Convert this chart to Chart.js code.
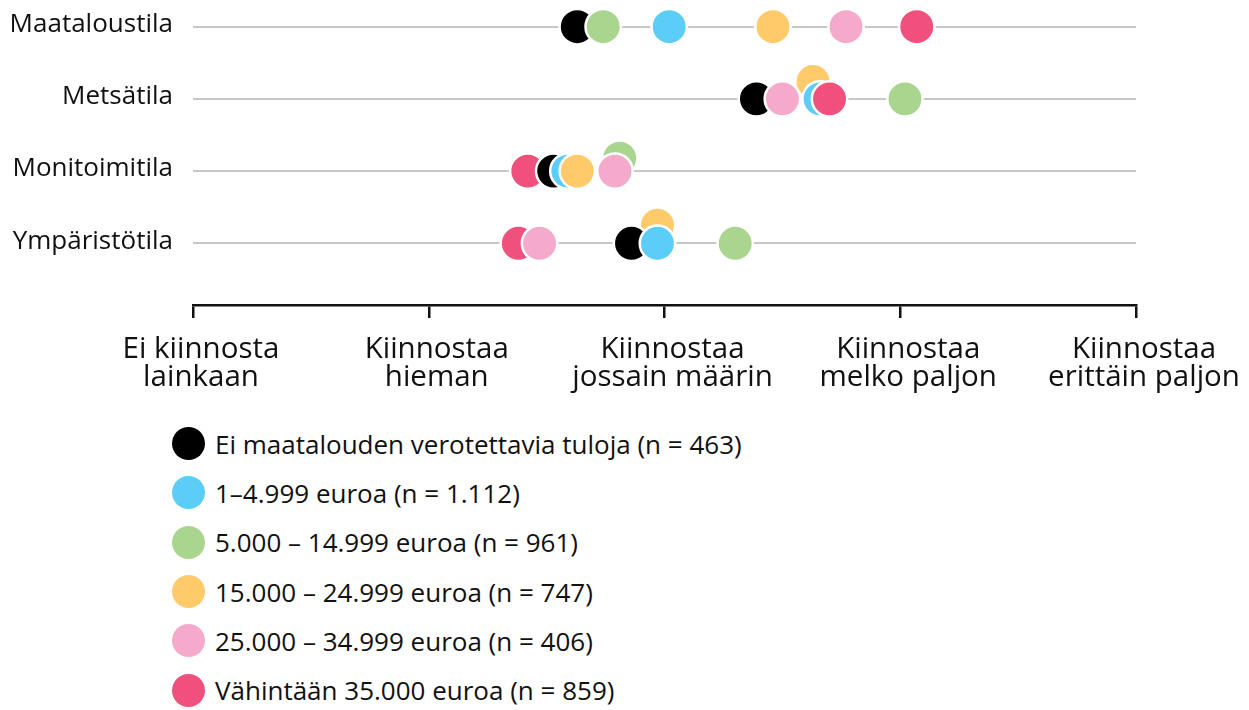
<!DOCTYPE html>
<html lang="fi">
<head>
<meta charset="utf-8">
<title>Kiinnostus tilatyyppeihin tulotason mukaan</title>
<script src="https://cdn.jsdelivr.net/npm/chart.js@4.4.1/dist/chart.umd.min.js"></script>
<style>
  body { margin: 0; background: #fff; font-family: "Open Sans", sans-serif; }
  #wrap { position: relative; width: 1249px; height: 710px; }
  #kaavio { position: absolute; left: 0; top: 0; }
  #selite { position: absolute; left: 172px; top: 419px; margin: 0; padding: 0; list-style: none; }
  #selite li { display: flex; align-items: center; height: 49.3px; font-size: 26px; color: #111; white-space: nowrap; }
  #selite .pallo { width: 33px; height: 33px; border-radius: 50%; margin-right: 10px; flex: none; }
</style>
</head>
<body>
<div id="wrap">
  <canvas id="kaavio" width="1249" height="410"></canvas>
  <ul id="selite"></ul>
</div>
<script>
var rivit = ['Maataloustila', 'Metsätila', 'Monitoimitila', 'Ympäristötila'];
var ryhmat = [
    'Ei maatalouden verotettavia tuloja (n = 463)',
    '1–4.999 euroa (n = 1.112)',
    '5.000 – 14.999 euroa (n = 961)',
    '15.000 – 24.999 euroa (n = 747)',
    '25.000 – 34.999 euroa (n = 406)',
    'Vähintään 35.000 euroa (n = 859)'
];
var asteikko = [
    ['Ei kiinnosta', 'lainkaan'],
    ['Kiinnostaa', 'hieman'],
    ['Kiinnostaa', 'jossain määrin'],
    ['Kiinnostaa', 'melko paljon'],
    ['Kiinnostaa', 'erittäin paljon']
];
var varit = ['#000000', '#5bcdf7', '#a9d58f', '#ffca6a', '#f5a9cb', '#ef507c'];

// keskiarvot 1–5, järjestys kuten rivit
var eiTuloja = [2.63, 3.39, 2.53, 2.86];
var tulot1 = [3.02, 3.66, 2.59, 2.97];
var tulot5 = [2.74, 4.02, 2.81, 3.30];
var tulot15 = [3.46, 3.63, 2.63, 2.97];
var tulot25 = [3.77, 3.50, 2.79, 2.47];
var tulot35 = [4.07, 3.70, 2.42, 2.38];
var sarjat = [eiTuloja, tulot1, tulot5, tulot15, tulot25, tulot35];

// päällekkäin osuvat pallot on nostettu vähän ylös: [rivi, ryhmä, nosto riveinä]
var nostot = [[1, 3, 0.24], [2, 2, 0.18], [3, 3, 0.25]];

// yksi datasetti per pallo, jotta oikeanpuoleinen pallo jää päälle
var pisteet = [];
rivit.forEach(function (rivi, i) {
    sarjat.forEach(function (sarja, j) {
        var nosto = 0;
        nostot.forEach(function (n) { if (n[0] === i && n[1] === j) nosto = n[2]; });
        pisteet.push({ rivi: i, ryhma: j, arvo: sarja[i], nosto: nosto });
    });
});
pisteet.sort(function (a, b) { return (b.nosto - a.nosto) || (a.arvo - b.arvo); });
pisteet.reverse(); // chart.js piirtää ensimmäisen datasetin päällimmäiseksi

var datasets = pisteet.map(function (p) {
    return {
        label: ryhmat[p.ryhma],
        data: [{ x: p.arvo, y: p.rivi - p.nosto }],
        backgroundColor: varit[p.ryhma],
        borderColor: '#ffffff',
        borderWidth: 2.5,
        pointRadius: 17.7,
        pointHoverRadius: 17.7,
        clip: false
    };
});

new Chart(document.getElementById('kaavio'), {
    type: 'scatter',
    data: { datasets: datasets },
    options: {
        responsive: false,
        animation: false,
        layout: { autoPadding: false, padding: { left: 0, right: 113, top: 0, bottom: 0 } },
        plugins: {
            legend: { display: false },
            tooltip: { enabled: false }
        },
        scales: {
            x: {
                type: 'linear',
                min: 1,
                max: 5,
                afterBuildTicks: function (s) {
                    s.ticks = asteikko.map(function (t, i) { return { value: i + 1 }; });
                },
                afterFit: function (s) { s.height = 105; s.paddingLeft = 0; s.paddingRight = 0; },
                grid: { drawOnChartArea: false, color: '#111', lineWidth: 2.5, tickLength: 13 },
                border: { color: '#111', width: 2.5 },
                ticks: {
                    callback: function (v) { return asteikko[v - 1]; },
                    color: '#111',
                    font: { family: 'Open Sans', size: 29.5, lineHeight: 0.93 },
                    padding: 18,
                    labelOffset: 8,
                    maxRotation: 0,
                    autoSkip: false
                }
            },
            y: {
                type: 'linear',
                reverse: true,
                min: -0.37,
                max: 3.855,
                afterBuildTicks: function (s) {
                    s.ticks = rivit.map(function (r, i) { return { value: i }; });
                },
                afterFit: function (s) { s.width = 193; s.paddingTop = 0; s.paddingBottom = 0; },
                grid: { color: '#c8c8c8', lineWidth: 2, drawTicks: false },
                border: { display: false },
                ticks: {
                    callback: function (v) { return rivit[v]; },
                    color: '#111',
                    font: { family: 'Open Sans', size: 26 },
                    padding: 20,
                    labelOffset: -2
                }
            }
        }
    }
});

// selite
var selite = document.getElementById('selite');
ryhmat.forEach(function (nimi, j) {
    var li = document.createElement('li');
    var pallo = document.createElement('span');
    pallo.className = 'pallo';
    pallo.style.background = varit[j];
    li.appendChild(pallo);
    li.appendChild(document.createTextNode(nimi));
    selite.appendChild(li);
});
</script>
</body>
</html>
